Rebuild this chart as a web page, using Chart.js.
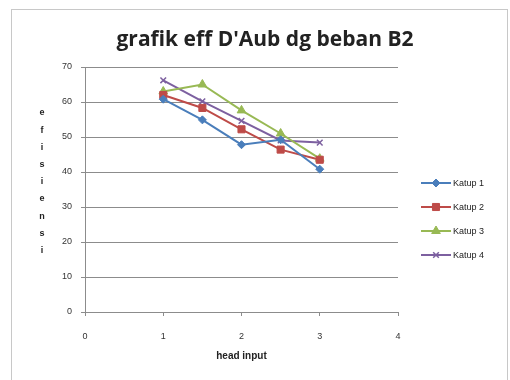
<!DOCTYPE html>
<html>
<head>
<meta charset="utf-8">
<script src="https://cdn.jsdelivr.net/npm/chart.js@4/dist/chart.umd.min.js"></script>
<style>
  html, body { margin: 0; padding: 0; background: #fff; }
  #wrap { width: 510px; height: 380px; position: relative; }
</style>
</head>
<body>
<div id="wrap"><canvas id="c" width="510" height="380"></canvas></div>
<script>
// head input values (x) and efficiency per valve (y)
const headInput = [1, 1.5, 2, 2.5, 3];
const katup1 = [60.8, 54.9, 47.8, 49.2, 40.8];
const katup2 = [62.0, 58.3, 52.2, 46.4, 43.5];
const katup3 = [63.0, 65.0, 57.6, 51.0, 43.8];
const katup4 = [66.2, 60.2, 54.6, 49.0, 48.4];
const seriesNames = ['Katup 1', 'Katup 2', 'Katup 3', 'Katup 4'];
const xTicks = [0, 1, 2, 3, 4];
const yTicks = [0, 10, 20, 30, 40, 50, 60, 70];
const yTitleLetters = ['e', 'f', 'i', 's', 'i', 'e', 'n', 's', 'i'];
const chartTitle = "grafik eff D'Aub dg beban B2";

const colors = ['#4A7EBB', '#BE4B48', '#98B954', '#7D60A0'];
const markers = ['rectRot', 'rect', 'triangle', 'crossRot'];
const markerSize = [4, 5, 5, 4];
const allSeries = [katup1, katup2, katup3, katup4];

const toPoints = vals => vals.map((v, i) => ({ x: headInput[i], y: v }));

const datasets = allSeries.map((vals, i) => ({
  label: seriesNames[i],
  data: toPoints(vals),
  showLine: true,
  borderColor: colors[i],
  backgroundColor: colors[i],
  borderWidth: 2,
  pointStyle: markers[i],
  pointRadius: markerSize[i],
  pointBorderColor: colors[i],
  pointBackgroundColor: colors[i],
  pointBorderWidth: markers[i] === 'crossRot' ? 1.5 : 1,
  tension: 0
}));

// frame around the whole chart
const framePlugin = {
  id: 'frame',
  beforeDraw(chart) {
    const ctx = chart.ctx;
    ctx.save();
    ctx.fillStyle = '#ffffff';
    ctx.fillRect(0, 0, chart.width, chart.height);
    ctx.strokeStyle = '#c8c8c8';
    ctx.lineWidth = 1;
    ctx.strokeRect(11.5, 9.5, 496, 380);
    ctx.restore();
  }
};

// chart title, vertical stacked y title and the legend on the right
const sidePlugin = {
  id: 'side',
  afterDraw(chart) {
    const ctx = chart.ctx;
    ctx.save();
    ctx.fillStyle = '#222';
    ctx.textAlign = 'center';
    ctx.textBaseline = 'middle';
    ctx.font = 'bold 21px "Open Sans", sans-serif';
    ctx.fillText(chartTitle, 265, 40);

    ctx.font = 'bold 9px "Liberation Sans", sans-serif';
    yTitleLetters.forEach((ch, i) => {
      ctx.fillText(ch, 42, 113 + i * 17.2);
    });

    // legend
    const rowY = [183, 207, 231, 255];
    chart.data.datasets.forEach((ds, i) => {
      const y = rowY[i];
      ctx.strokeStyle = ds.borderColor;
      ctx.lineWidth = 2;
      ctx.beginPath();
      ctx.moveTo(421, y);
      ctx.lineTo(451, y);
      ctx.stroke();
      ctx.fillStyle = ds.pointBackgroundColor;
      ctx.lineWidth = ds.pointBorderWidth;
      Chart.helpers.drawPoint(ctx, {
        pointStyle: ds.pointStyle,
        radius: ds.pointRadius,
        rotation: 0,
        borderWidth: ds.pointBorderWidth
      }, 436, y);
      ctx.fillStyle = '#222';
      ctx.font = '9px "Liberation Sans", sans-serif';
      ctx.textAlign = 'left';
      ctx.fillText(ds.label, 453, y + 0.5);
    });
    ctx.restore();
  }
};

new Chart(document.getElementById('c'), {
  type: 'scatter',
  data: { datasets },
  plugins: [framePlugin, sidePlugin],
  options: {
    responsive: false,
    animation: false,
    devicePixelRatio: 1,
    layout: { padding: { left: 0, right: 112, top: 67, bottom: 0 } },
    plugins: {
      legend: { display: false },
      tooltip: { enabled: false },
      title: { display: false }
    },
    scales: {
      x: {
        type: 'linear',
        min: 0,
        max: 4,
        afterBuildTicks(scale) { scale.ticks = xTicks.map(v => ({ value: v })); },
        afterFit(scale) { scale.height = 68; },
        ticks: {
          color: '#333',
          font: { family: '"Liberation Sans", sans-serif', size: 9 },
          padding: 15
        },
        grid: { drawOnChartArea: false, drawTicks: true, tickLength: 4, color: '#8c8c8c' },
        border: { display: true, color: '#8c8c8c', width: 1 },
        title: {
          display: true,
          text: 'head input',
          color: '#222',
          font: { family: '"Liberation Sans", sans-serif', size: 10, weight: 'bold' },
          padding: { top: 4, bottom: 18 }
        }
      },
      y: {
        type: 'linear',
        min: 0,
        max: 70,
        afterBuildTicks(scale) { scale.ticks = yTicks.map(v => ({ value: v })); },
        afterFit(scale) { scale.width = 85; },
        ticks: {
          color: '#333',
          font: { family: '"Liberation Sans", sans-serif', size: 9 },
          padding: 9
        },
        grid: { drawOnChartArea: true, drawTicks: true, tickLength: 4, color: '#8c8c8c' },
        border: { display: true, color: '#8c8c8c', width: 1 }
      }
    }
  }
});
</script>
</body>
</html>
